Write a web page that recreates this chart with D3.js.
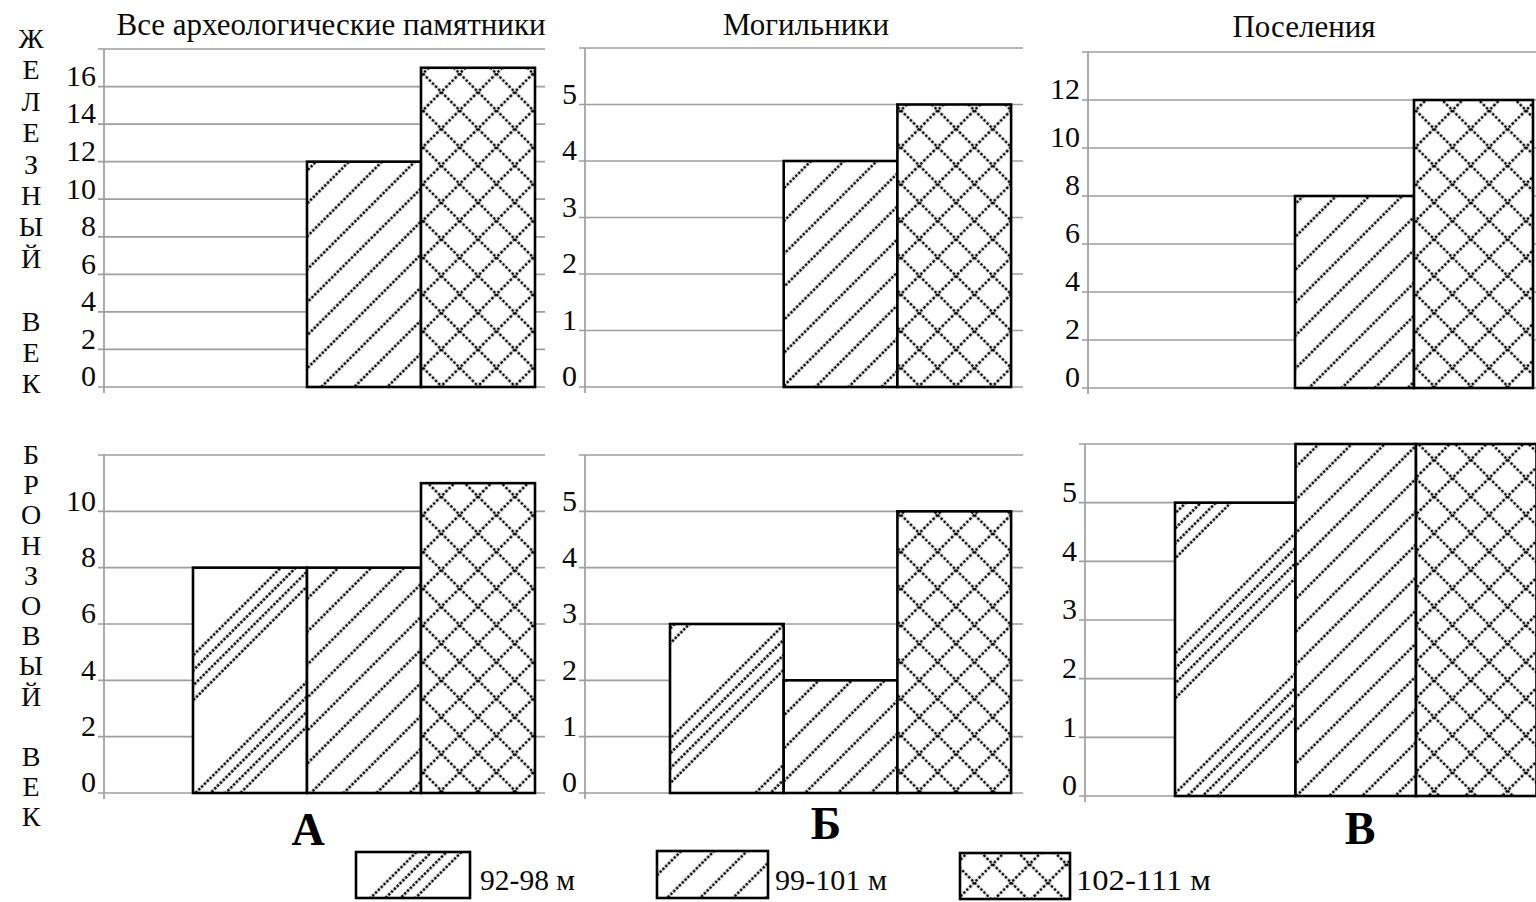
<!DOCTYPE html>
<html>
<head>
<meta charset="utf-8">
<script src="https://cdn.jsdelivr.net/npm/d3@7"></script>
<style>
  html, body { margin: 0; padding: 0; background: #fff; }
  svg { display: block; }
  svg text { font-family: "Liberation Serif", "DejaVu Serif", serif; }
</style>
</head>
<body>
<svg id="chart" width="1536" height="902"></svg>
<script>
// ---- data -------------------------------------------------------------
// altitude classes (one bar per class in every panel)
const seriesKeys = ["92-98", "99-101", "102-111"];
const legendLabels = ["92-98 м", "99-101 м", "102-111 м"];
const groupTitles = ["Все археологические памятники", "Могильники", "Поселения"];
const groupLetters = ["А", "Б", "В"];
const ironLabel = "ЖЕЛЕЗНЫЙ ВЕК";
const bronzeLabel = "БРОНЗОВЫЙ ВЕК";

// number of sites, Iron Age
const ironAll = [0, 12, 17];
const ironBurials = [0, 4, 5];
const ironSettlements = [0, 8, 12];
// number of sites, Bronze Age
const bronzeAll = [8, 8, 11];
const bronzeBurials = [3, 2, 5];
const bronzeSettlements = [5, 6, 6];

// y tick labels of each panel
const ticksIronAll = [0, 2, 4, 6, 8, 10, 12, 14, 16];
const ticksIronBurials = [0, 1, 2, 3, 4, 5];
const ticksIronSettlements = [0, 2, 4, 6, 8, 10, 12];
const ticksBronzeAll = [0, 2, 4, 6, 8, 10];
const ticksBronzeBurials = [0, 1, 2, 3, 4, 5];
const ticksBronzeSettlements = [0, 1, 2, 3, 4, 5];
// upper end of each value axis (top gridline)
const axisMax = [18, 6, 14, 12, 6, 6];

// ---- layout -----------------------------------------------------------
const FONT = "'Liberation Serif', 'DejaVu Serif', serif";
const panels = [
  { values: ironAll,           ticks: ticksIronAll,           axisX: 104,  right: 545,  top: 49,  bottom: 387, barX: 193,  barW: 114 },
  { values: ironBurials,       ticks: ticksIronBurials,       axisX: 585,  right: 1023, top: 48,  bottom: 387, barX: 670,  barW: 113.7 },
  { values: ironSettlements,   ticks: ticksIronSettlements,   axisX: 1088, right: 1546, top: 52,  bottom: 388, barX: 1176, barW: 119 },
  { values: bronzeAll,         ticks: ticksBronzeAll,         axisX: 104,  right: 545,  top: 455, bottom: 793, barX: 193,  barW: 114 },
  { values: bronzeBurials,     ticks: ticksBronzeBurials,     axisX: 585,  right: 1023, top: 455, bottom: 793, barX: 670,  barW: 113.7 },
  { values: bronzeSettlements, ticks: ticksBronzeSettlements, axisX: 1085, right: 1546, top: 444, bottom: 796, barX: 1175, barW: 120.5 }
];
panels.forEach((p, i) => { p.max = axisMax[i]; });

const gridColor = "#9e9e9e";
const ink = "#0a0a0a";

const svg = d3.select("#chart").attr("font-family", FONT);
const defs = svg.append("defs");

// ---- fill patterns (dotted hatching) ----------------------------------
const DOT_W = 2.6;
function linePattern(id, period, offsets, tileH, dash) {
  const p = defs.append("pattern")
    .attr("id", id)
    .attr("patternUnits", "userSpaceOnUse")
    .attr("width", period)
    .attr("height", tileH)
    .attr("patternTransform", "rotate(45)");
  p.append("rect").attr("width", period).attr("height", tileH).attr("fill", "#fff");
  offsets.forEach(o => {
    p.append("line")
      .attr("x1", o).attr("x2", o).attr("y1", 0).attr("y2", tileH)
      .attr("stroke", "#000").attr("stroke-width", DOT_W)
      .attr("stroke-dasharray", dash);
  });
}
// 92-98: groups of four close lines
linePattern("fill-0", 99, [6, 16.6, 27.2, 37.8], 100, "2.6 1.4");
// 99-101: single evenly spaced lines
linePattern("fill-1", 23.3, [11.6], 24, "2.6 1.4");
// 102-111: diagonal lattice
(function () {
  const d = 26;
  const p = defs.append("pattern")
    .attr("id", "fill-2")
    .attr("patternUnits", "userSpaceOnUse")
    .attr("width", d).attr("height", d)
    .attr("patternTransform", "rotate(45)");
  p.append("rect").attr("width", d).attr("height", d).attr("fill", "#fff");
  const dash = "2.6 1.733";
  p.append("line").attr("x1", d / 2).attr("x2", d / 2).attr("y1", 0).attr("y2", d)
    .attr("stroke", "#000").attr("stroke-width", DOT_W).attr("stroke-dasharray", dash);
  p.append("line").attr("y1", d / 2).attr("y2", d / 2).attr("x1", 0).attr("x2", d)
    .attr("stroke", "#000").attr("stroke-width", DOT_W).attr("stroke-dasharray", dash);
})();

// ---- panels -----------------------------------------------------------
panels.forEach(p => {
  const g = svg.append("g");
  const y = d3.scaleLinear().domain([0, p.max]).range([p.bottom, p.top]);
  const x = d3.scaleBand().domain(seriesKeys)
    .range([p.barX, p.barX + p.barW * seriesKeys.length])
    .paddingInner(0).paddingOuter(0);

  // horizontal gridlines (labelled ticks plus the top line)
  g.append("g").selectAll("line")
    .data(p.ticks.concat([p.max]))
    .join("line")
    .attr("x1", p.axisX - 6).attr("x2", p.right)
    .attr("y1", d => y(d)).attr("y2", d => y(d))
    .attr("stroke", gridColor).attr("stroke-width", 1.7);

  // bars
  const rows = seriesKeys.map((k, i) => ({ key: k, i, v: p.values[i] })).filter(d => d.v > 0);
  g.append("g").selectAll("rect")
    .data(rows)
    .join("rect")
    .attr("x", d => x(d.key))
    .attr("y", d => y(d.v))
    .attr("width", x.bandwidth())
    .attr("height", d => y(0) - y(d.v))
    .attr("fill", d => `url(#fill-${d.i})`)
    .attr("stroke", "#000")
    .attr("stroke-width", 2.6);

  // value axis line
  g.append("line")
    .attr("x1", p.axisX).attr("x2", p.axisX)
    .attr("y1", y(p.max)).attr("y2", y(0) + 6)
    .attr("stroke", gridColor).attr("stroke-width", 1.7);

  // tick labels
  g.append("g")
    .attr("transform", `translate(${p.axisX},0)`)
    .call(d3.axisLeft(y).tickValues(p.ticks).tickSize(0).tickPadding(0).tickFormat(d3.format("d")))
    .call(a => a.select(".domain").remove())
    .attr("font-family", FONT)
    .attr("font-size", 30)
    .call(a => a.selectAll("text")
      .attr("x", -8)
      .attr("dy", "-0.04em")
      .attr("font-family", FONT)
      .attr("font-size", 30)
      .attr("fill", ink));
});

// ---- panel titles -----------------------------------------------------
const titlePos = [[331, 35], [806, 35], [1304, 37]];
svg.append("g").selectAll("text")
  .data(groupTitles)
  .join("text")
  .attr("x", (d, i) => titlePos[i][0])
  .attr("y", (d, i) => titlePos[i][1])
  .attr("text-anchor", "middle")
  .attr("font-family", FONT)
  .attr("font-size", 31)
  .attr("fill", ink)
  .text(d => d);

// ---- group letters under the columns ----------------------------------
const letterPos = [[308, 845], [826, 839], [1360, 844]];
svg.append("g").selectAll("text")
  .data(groupLetters)
  .join("text")
  .attr("x", (d, i) => letterPos[i][0])
  .attr("y", (d, i) => letterPos[i][1])
  .attr("text-anchor", "middle")
  .attr("font-family", FONT)
  .attr("font-size", 46)
  .attr("font-weight", "bold")
  .attr("fill", "#000")
  .text(d => d);

// ---- stacked row captions on the left ---------------------------------
function stacked(label, y0, step) {
  svg.append("g").selectAll("text")
    .data(Array.from(label).map((c, i) => ({ c, i })).filter(d => d.c !== " "))
    .join("text")
    .attr("x", 31)
    .attr("y", d => y0 + d.i * step)
    .attr("text-anchor", "middle")
    .attr("font-family", FONT)
    .attr("font-size", 28)
    .attr("fill", ink)
    .text(d => d.c);
}
stacked(ironLabel, 48, 31.4);
stacked(bronzeLabel, 464, 30.2);

// ---- legend -----------------------------------------------------------
const legendBoxes = [
  { x: 356, y: 852, w: 114, h: 46, tx: 480, tl: 95 },
  { x: 657, y: 851, w: 111, h: 47, tx: 775, tl: 112 },
  { x: 960, y: 853, w: 110, h: 46, tx: 1076, tl: 135 }
];
const lg = svg.append("g");
legendBoxes.forEach((b, i) => {
  lg.append("rect")
    .attr("x", b.x).attr("y", b.y).attr("width", b.w).attr("height", b.h)
    .attr("fill", `url(#fill-${i})`)
    .attr("stroke", "#000").attr("stroke-width", 2.6);
  lg.append("text")
    .attr("x", b.tx).attr("y", 890)
    .attr("font-family", FONT)
    .attr("font-size", 29)
    .attr("fill", ink)
    .attr("textLength", b.tl)
    .attr("lengthAdjust", "spacingAndGlyphs")
    .text(legendLabels[i]);
});
</script>
</body>
</html>
